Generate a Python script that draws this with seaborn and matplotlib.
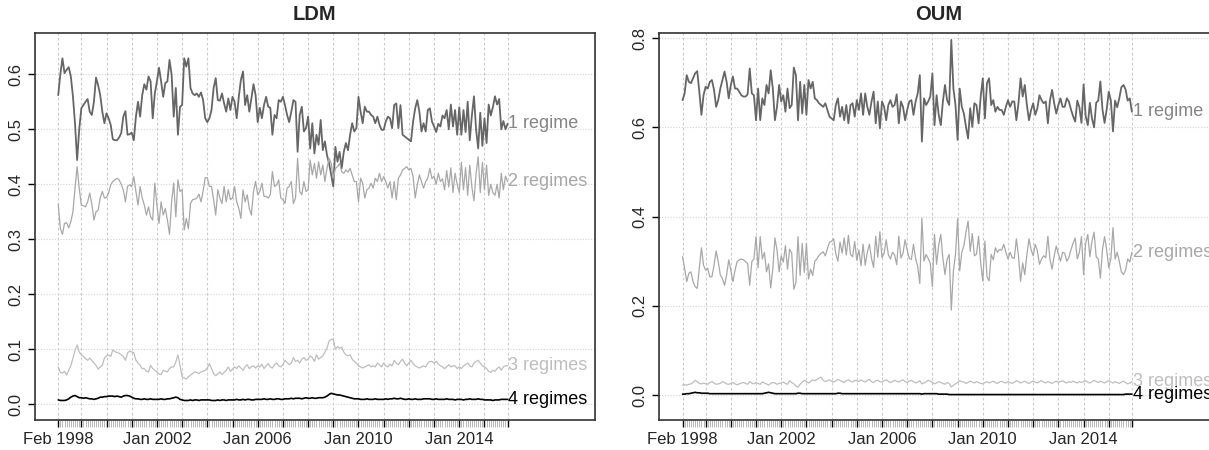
import numpy as np
import pandas as pd
import seaborn as sns
import matplotlib.pyplot as plt

# monthly observations, Feb 1998 .. Dec 2015
months = pd.date_range('1998-02-01', periods=215, freq='MS')

# ---- LDM ----
ldm_1 = [
    0.562, 0.600, 0.629, 0.602, 0.608, 0.613, 0.596, 0.560, 0.510, 0.444, 0.500,
    0.538, 0.544, 0.550, 0.555, 0.532, 0.526, 0.550, 0.594, 0.580, 0.562, 0.532, 0.511,
    0.529, 0.520, 0.508, 0.482, 0.480, 0.480, 0.485, 0.493, 0.523, 0.533, 0.490, 0.491,
    0.494, 0.480, 0.523, 0.550, 0.523, 0.562, 0.582, 0.572, 0.596, 0.587, 0.520, 0.565,
    0.587, 0.612, 0.587, 0.559, 0.584, 0.587, 0.626, 0.599, 0.523, 0.575, 0.490, 0.541,
    0.544, 0.629, 0.614, 0.629, 0.575, 0.565, 0.562, 0.565, 0.559, 0.567, 0.553, 0.520,
    0.513, 0.520, 0.535, 0.575, 0.593, 0.553, 0.552, 0.565, 0.547, 0.532, 0.556, 0.535,
    0.559, 0.550, 0.520, 0.559, 0.590, 0.605, 0.544, 0.562, 0.532, 0.556, 0.582, 0.562,
    0.513, 0.539, 0.520, 0.544, 0.559, 0.541, 0.539, 0.490, 0.526, 0.520, 0.553, 0.550,
    0.559, 0.544, 0.526, 0.513, 0.532, 0.553, 0.550, 0.459, 0.526, 0.541, 0.496, 0.502,
    0.523, 0.465, 0.511, 0.456, 0.490, 0.472, 0.517, 0.462, 0.478, 0.453, 0.438, 0.417,
    0.396, 0.468, 0.441, 0.459, 0.429, 0.459, 0.475, 0.462, 0.490, 0.511, 0.496, 0.502,
    0.559, 0.532, 0.511, 0.541, 0.532, 0.532, 0.526, 0.523, 0.511, 0.523, 0.508, 0.499,
    0.499, 0.514, 0.523, 0.520, 0.502, 0.544, 0.547, 0.502, 0.544, 0.490, 0.487, 0.484,
    0.481, 0.478, 0.514, 0.538, 0.553, 0.532, 0.496, 0.511, 0.496, 0.535, 0.538, 0.514,
    0.505, 0.495, 0.510, 0.505, 0.525, 0.520, 0.535, 0.500, 0.545, 0.505, 0.535, 0.490,
    0.540, 0.490, 0.535, 0.495, 0.550, 0.480, 0.525, 0.560, 0.500, 0.465, 0.530, 0.470,
    0.520, 0.475, 0.545, 0.525, 0.540, 0.560, 0.545, 0.555, 0.500, 0.515, 0.500, 0.510,
]
ldm_2 = [
    0.364, 0.320, 0.309, 0.329, 0.330, 0.321, 0.332, 0.350, 0.393, 0.432, 0.393,
    0.362, 0.361, 0.359, 0.368, 0.384, 0.364, 0.335, 0.350, 0.353, 0.375, 0.387, 0.375,
    0.376, 0.384, 0.399, 0.405, 0.408, 0.411, 0.408, 0.400, 0.390, 0.368, 0.396, 0.399,
    0.396, 0.414, 0.387, 0.362, 0.396, 0.375, 0.362, 0.344, 0.359, 0.341, 0.335, 0.402,
    0.362, 0.329, 0.368, 0.344, 0.356, 0.335, 0.309, 0.368, 0.402, 0.341, 0.408, 0.387,
    0.390, 0.317, 0.338, 0.319, 0.365, 0.372, 0.373, 0.375, 0.382, 0.368, 0.387, 0.412,
    0.412, 0.396, 0.396, 0.372, 0.344, 0.390, 0.375, 0.365, 0.396, 0.368, 0.390, 0.372,
    0.375, 0.396, 0.368, 0.356, 0.338, 0.390, 0.368, 0.381, 0.356, 0.344, 0.387, 0.405,
    0.381, 0.387, 0.402, 0.378, 0.378, 0.375, 0.381, 0.423, 0.396, 0.399, 0.408, 0.375,
    0.372, 0.365, 0.393, 0.396, 0.405, 0.365, 0.375, 0.447, 0.387, 0.381, 0.405, 0.387,
    0.390, 0.444, 0.417, 0.438, 0.411, 0.441, 0.417, 0.435, 0.405, 0.429, 0.447, 0.438,
    0.411, 0.429, 0.432, 0.438, 0.423, 0.420, 0.426, 0.422, 0.429, 0.417, 0.405, 0.405,
    0.368, 0.411, 0.402, 0.375, 0.390, 0.393, 0.402, 0.393, 0.411, 0.405, 0.420, 0.405,
    0.414, 0.405, 0.393, 0.405, 0.375, 0.405, 0.372, 0.411, 0.417, 0.426, 0.429, 0.432,
    0.426, 0.429, 0.414, 0.375, 0.399, 0.417, 0.405, 0.393, 0.405, 0.411, 0.429, 0.410,
    0.415, 0.400, 0.420, 0.405, 0.410, 0.390, 0.425, 0.395, 0.430, 0.385, 0.420, 0.400,
    0.385, 0.440, 0.390, 0.430, 0.380, 0.435, 0.395, 0.370, 0.420, 0.450, 0.385, 0.440,
    0.390, 0.435, 0.380, 0.400, 0.385, 0.380, 0.400, 0.375, 0.420, 0.390, 0.415, 0.405,
]
ldm_3 = [
    0.068, 0.058, 0.057, 0.060, 0.053, 0.062, 0.070, 0.084, 0.098, 0.108, 0.095,
    0.090, 0.087, 0.083, 0.080, 0.084, 0.080, 0.075, 0.071, 0.064, 0.068, 0.071, 0.084,
    0.088, 0.090, 0.087, 0.099, 0.096, 0.094, 0.093, 0.090, 0.087, 0.080, 0.093, 0.097,
    0.095, 0.094, 0.080, 0.075, 0.071, 0.065, 0.065, 0.060, 0.059, 0.071, 0.065, 0.062,
    0.059, 0.055, 0.054, 0.062, 0.060, 0.059, 0.065, 0.068, 0.068, 0.077, 0.090, 0.071,
    0.050, 0.048, 0.046, 0.050, 0.053, 0.056, 0.059, 0.058, 0.056, 0.059, 0.060, 0.062,
    0.066, 0.074, 0.065, 0.056, 0.052, 0.055, 0.059, 0.054, 0.058, 0.062, 0.068, 0.060,
    0.064, 0.068, 0.065, 0.070, 0.066, 0.062, 0.068, 0.072, 0.065, 0.068, 0.070, 0.066,
    0.070, 0.068, 0.073, 0.065, 0.070, 0.074, 0.068, 0.066, 0.072, 0.075, 0.070, 0.068,
    0.072, 0.080, 0.076, 0.072, 0.075, 0.085, 0.078, 0.080, 0.075, 0.082, 0.085, 0.080,
    0.082, 0.088, 0.085, 0.078, 0.090, 0.082, 0.085, 0.088, 0.095, 0.102, 0.115, 0.118,
    0.118, 0.100, 0.105, 0.102, 0.104, 0.095, 0.090, 0.088, 0.090, 0.082, 0.078, 0.075,
    0.070, 0.068, 0.066, 0.068, 0.070, 0.072, 0.068, 0.070, 0.068, 0.075, 0.072, 0.068,
    0.075, 0.070, 0.068, 0.073, 0.070, 0.080, 0.075, 0.072, 0.078, 0.082, 0.075, 0.070,
    0.075, 0.080, 0.074, 0.070, 0.068, 0.066, 0.068, 0.070, 0.068, 0.075, 0.078, 0.078,
    0.075, 0.078, 0.073, 0.070, 0.068, 0.065, 0.068, 0.072, 0.068, 0.070, 0.070, 0.065,
    0.068, 0.065, 0.070, 0.072, 0.075, 0.070, 0.068, 0.075, 0.078, 0.080, 0.075, 0.070,
    0.068, 0.065, 0.060, 0.058, 0.062, 0.060, 0.065, 0.068, 0.062, 0.068, 0.070, 0.070,
]
ldm_4 = [
    0.008, 0.007, 0.007, 0.007, 0.008, 0.010, 0.013, 0.015, 0.016, 0.014, 0.012,
    0.012, 0.011, 0.012, 0.011, 0.010, 0.010, 0.009, 0.010, 0.011, 0.013, 0.013, 0.014,
    0.014, 0.015, 0.015, 0.015, 0.014, 0.015, 0.014, 0.013, 0.015, 0.016, 0.016, 0.015,
    0.013, 0.011, 0.010, 0.010, 0.009, 0.009, 0.010, 0.009, 0.009, 0.010, 0.009, 0.009,
    0.009, 0.009, 0.010, 0.009, 0.009, 0.010, 0.010, 0.011, 0.012, 0.013, 0.012, 0.009,
    0.008, 0.007, 0.007, 0.007, 0.008, 0.007, 0.008, 0.008, 0.007, 0.008, 0.008, 0.008,
    0.008, 0.008, 0.007, 0.007, 0.007, 0.008, 0.007, 0.008, 0.008, 0.007, 0.008, 0.008,
    0.008, 0.008, 0.009, 0.008, 0.008, 0.009, 0.008, 0.009, 0.009, 0.008, 0.008, 0.009,
    0.009, 0.009, 0.009, 0.010, 0.009, 0.009, 0.010, 0.009, 0.009, 0.010, 0.010, 0.009,
    0.009, 0.010, 0.010, 0.010, 0.011, 0.010, 0.011, 0.011, 0.011, 0.010, 0.011, 0.012,
    0.011, 0.011, 0.012, 0.011, 0.011, 0.012, 0.012, 0.012, 0.013, 0.015, 0.018, 0.020,
    0.019, 0.018, 0.017, 0.017, 0.016, 0.015, 0.014, 0.013, 0.012, 0.011, 0.010, 0.010,
    0.010, 0.009, 0.009, 0.009, 0.010, 0.009, 0.009, 0.009, 0.010, 0.009, 0.009, 0.009,
    0.009, 0.010, 0.009, 0.010, 0.010, 0.011, 0.010, 0.010, 0.011, 0.010, 0.009, 0.009,
    0.010, 0.009, 0.009, 0.010, 0.009, 0.009, 0.009, 0.010, 0.010, 0.010, 0.010, 0.009,
    0.009, 0.010, 0.009, 0.009, 0.009, 0.009, 0.010, 0.009, 0.009, 0.009, 0.008, 0.009,
    0.009, 0.009, 0.008, 0.009, 0.009, 0.010, 0.009, 0.009, 0.009, 0.010, 0.009, 0.009,
    0.008, 0.008, 0.008, 0.008, 0.007, 0.008, 0.008, 0.008, 0.009, 0.009, 0.009, 0.009,
]

# ---- OUM ----
oum_1 = [
    0.661, 0.676, 0.717, 0.702, 0.699, 0.710, 0.721, 0.726, 0.680, 0.628, 0.672,
    0.691, 0.687, 0.702, 0.706, 0.684, 0.646, 0.661, 0.687, 0.706, 0.725, 0.702, 0.665,
    0.695, 0.714, 0.687, 0.687, 0.680, 0.672, 0.669, 0.669, 0.674, 0.732, 0.676, 0.672,
    0.616, 0.687, 0.616, 0.665, 0.650, 0.695, 0.676, 0.728, 0.687, 0.616, 0.646, 0.695,
    0.658, 0.672, 0.635, 0.687, 0.643, 0.650, 0.734, 0.717, 0.616, 0.702, 0.631, 0.695,
    0.628, 0.706, 0.687, 0.702, 0.665, 0.661, 0.654, 0.650, 0.646, 0.654, 0.639, 0.624,
    0.620, 0.616, 0.650, 0.665, 0.624, 0.646, 0.616, 0.650, 0.609, 0.650, 0.654, 0.624,
    0.661, 0.639, 0.676, 0.628, 0.676, 0.646, 0.628, 0.658, 0.680, 0.609, 0.658, 0.598,
    0.658, 0.646, 0.616, 0.650, 0.661, 0.646, 0.650, 0.674, 0.609, 0.658, 0.646, 0.616,
    0.639, 0.658, 0.661, 0.628, 0.658, 0.676, 0.717, 0.568, 0.665, 0.650, 0.658, 0.669,
    0.721, 0.605, 0.672, 0.628, 0.605, 0.658, 0.695, 0.661, 0.650, 0.796, 0.687, 0.650,
    0.572, 0.687, 0.646, 0.631, 0.601, 0.575, 0.643, 0.601, 0.654, 0.650, 0.609, 0.669,
    0.710, 0.620, 0.699, 0.710, 0.650, 0.661, 0.635, 0.646, 0.639, 0.639, 0.628, 0.646,
    0.661, 0.646, 0.658, 0.658, 0.616, 0.654, 0.710, 0.669, 0.695, 0.650, 0.616, 0.639,
    0.654, 0.628, 0.643, 0.672, 0.661, 0.654, 0.658, 0.609, 0.661, 0.684, 0.654, 0.631,
    0.650, 0.665, 0.646, 0.646, 0.665, 0.658, 0.640, 0.625, 0.613, 0.660, 0.645, 0.610,
    0.696, 0.625, 0.605, 0.655, 0.620, 0.600, 0.655, 0.660, 0.703, 0.640, 0.610, 0.640,
    0.680, 0.660, 0.591, 0.660, 0.645, 0.665, 0.690, 0.695, 0.685, 0.660, 0.665, 0.635,
]
oum_2 = [
    0.310, 0.284, 0.254, 0.273, 0.276, 0.254, 0.243, 0.239, 0.284, 0.330, 0.291,
    0.280, 0.284, 0.265, 0.265, 0.291, 0.323, 0.299, 0.269, 0.261, 0.246, 0.269, 0.303,
    0.280, 0.254, 0.280, 0.299, 0.303, 0.305, 0.303, 0.299, 0.295, 0.246, 0.299, 0.305,
    0.355, 0.285, 0.355, 0.305, 0.320, 0.276, 0.294, 0.240, 0.283, 0.352, 0.325, 0.276,
    0.312, 0.298, 0.335, 0.282, 0.327, 0.318, 0.237, 0.252, 0.355, 0.268, 0.340, 0.275,
    0.340, 0.260, 0.282, 0.268, 0.300, 0.305, 0.313, 0.318, 0.321, 0.312, 0.328, 0.342,
    0.345, 0.350, 0.316, 0.300, 0.343, 0.318, 0.352, 0.314, 0.358, 0.315, 0.310, 0.344,
    0.302, 0.325, 0.290, 0.338, 0.291, 0.320, 0.338, 0.306, 0.286, 0.356, 0.309, 0.366,
    0.308, 0.318, 0.348, 0.315, 0.305, 0.320, 0.314, 0.292, 0.356, 0.307, 0.318, 0.348,
    0.325, 0.306, 0.304, 0.338, 0.306, 0.288, 0.250, 0.396, 0.300, 0.315, 0.306, 0.295,
    0.243, 0.360, 0.293, 0.336, 0.360, 0.306, 0.270, 0.304, 0.315, 0.190, 0.278, 0.315,
    0.395, 0.278, 0.320, 0.335, 0.365, 0.390, 0.322, 0.362, 0.312, 0.316, 0.356, 0.296,
    0.255, 0.345, 0.265, 0.256, 0.315, 0.303, 0.330, 0.320, 0.326, 0.325, 0.338, 0.320,
    0.305, 0.320, 0.308, 0.306, 0.350, 0.312, 0.255, 0.296, 0.270, 0.315, 0.350, 0.326,
    0.312, 0.338, 0.322, 0.293, 0.305, 0.312, 0.308, 0.356, 0.304, 0.282, 0.312, 0.334,
    0.316, 0.300, 0.320, 0.318, 0.300, 0.308, 0.326, 0.340, 0.352, 0.305, 0.320, 0.355,
    0.270, 0.340, 0.360, 0.310, 0.345, 0.365, 0.310, 0.305, 0.262, 0.326, 0.355, 0.325,
    0.285, 0.305, 0.375, 0.305, 0.320, 0.300, 0.276, 0.270, 0.280, 0.305, 0.298, 0.320,
]
oum_3 = [
    0.022, 0.023, 0.022, 0.024, 0.025, 0.028, 0.033, 0.030, 0.026, 0.025, 0.027,
    0.025, 0.024, 0.028, 0.030, 0.027, 0.024, 0.025, 0.026, 0.030, 0.028, 0.025, 0.024,
    0.026, 0.028, 0.025, 0.023, 0.025, 0.027, 0.028, 0.026, 0.024, 0.030, 0.027, 0.025,
    0.028, 0.026, 0.024, 0.029, 0.027, 0.025, 0.022, 0.026, 0.028, 0.027, 0.024, 0.026,
    0.027, 0.029, 0.026, 0.024, 0.032, 0.028, 0.025, 0.020, 0.018, 0.024, 0.029, 0.033,
    0.030, 0.027, 0.030, 0.034, 0.032, 0.035, 0.038, 0.040, 0.033, 0.030, 0.032, 0.034,
    0.031, 0.029, 0.032, 0.035, 0.033, 0.030, 0.028, 0.032, 0.034, 0.031, 0.029, 0.033,
    0.032, 0.030, 0.034, 0.031, 0.029, 0.033, 0.035, 0.030, 0.028, 0.032, 0.033, 0.030,
    0.029, 0.032, 0.034, 0.031, 0.028, 0.030, 0.033, 0.031, 0.029, 0.032, 0.034, 0.030,
    0.028, 0.031, 0.033, 0.030, 0.027, 0.029, 0.032, 0.025, 0.027, 0.030, 0.033, 0.031,
    0.028, 0.025, 0.027, 0.030, 0.028, 0.026, 0.024, 0.028, 0.026, 0.018, 0.022, 0.025,
    0.028, 0.032, 0.030, 0.029, 0.026, 0.028, 0.031, 0.029, 0.027, 0.030, 0.028, 0.026,
    0.025, 0.028, 0.030, 0.027, 0.029, 0.031, 0.028, 0.026, 0.029, 0.031, 0.028, 0.027,
    0.030, 0.028, 0.026, 0.029, 0.032, 0.030, 0.027, 0.029, 0.031, 0.028, 0.026, 0.029,
    0.031, 0.029, 0.027, 0.030, 0.032, 0.029, 0.027, 0.030, 0.028, 0.026, 0.029, 0.031,
    0.028, 0.030, 0.032, 0.029, 0.027, 0.030, 0.028, 0.031, 0.029, 0.027, 0.030, 0.028,
    0.030, 0.032, 0.029, 0.027, 0.030, 0.033, 0.030, 0.028, 0.031, 0.029, 0.027, 0.030,
    0.032, 0.029, 0.027, 0.030, 0.028, 0.026, 0.029, 0.031, 0.028, 0.025, 0.027, 0.030,
]
oum_4 = [
    0.002, 0.002, 0.003, 0.003, 0.004, 0.005, 0.006, 0.005, 0.005, 0.004, 0.004,
    0.004, 0.004, 0.003, 0.003, 0.003, 0.003, 0.003, 0.003, 0.003, 0.003, 0.003, 0.003,
    0.003, 0.003, 0.003, 0.003, 0.003, 0.003, 0.003, 0.003, 0.003, 0.003, 0.003, 0.003,
    0.003, 0.003, 0.003, 0.003, 0.004, 0.005, 0.006, 0.005, 0.004, 0.003, 0.003, 0.003,
    0.003, 0.003, 0.003, 0.003, 0.003, 0.003, 0.003, 0.003, 0.004, 0.004, 0.003, 0.003,
    0.003, 0.003, 0.003, 0.003, 0.003, 0.003, 0.003, 0.003, 0.003, 0.003, 0.003, 0.003,
    0.003, 0.003, 0.003, 0.004, 0.004, 0.003, 0.003, 0.003, 0.003, 0.003, 0.003, 0.003,
    0.003, 0.003, 0.003, 0.003, 0.003, 0.003, 0.003, 0.003, 0.003, 0.003, 0.003, 0.003,
    0.003, 0.003, 0.003, 0.003, 0.003, 0.003, 0.003, 0.003, 0.003, 0.003, 0.003, 0.003,
    0.003, 0.003, 0.003, 0.003, 0.003, 0.003, 0.003, 0.002, 0.003, 0.003, 0.003, 0.003,
    0.003, 0.003, 0.003, 0.002, 0.002, 0.002, 0.002, 0.002, 0.001, 0.001, 0.001, 0.001,
    0.001, 0.001, 0.001, 0.001, 0.001, 0.001, 0.001, 0.001, 0.001, 0.001, 0.001, 0.001,
    0.001, 0.001, 0.001, 0.001, 0.001, 0.001, 0.001, 0.001, 0.001, 0.001, 0.001, 0.001,
    0.001, 0.001, 0.001, 0.001, 0.001, 0.001, 0.001, 0.001, 0.001, 0.001, 0.001, 0.001,
    0.001, 0.001, 0.001, 0.001, 0.001, 0.001, 0.001, 0.001, 0.001, 0.001, 0.001, 0.001,
    0.001, 0.001, 0.001, 0.001, 0.001, 0.001, 0.001, 0.001, 0.001, 0.001, 0.001, 0.001,
    0.001, 0.001, 0.001, 0.001, 0.001, 0.001, 0.001, 0.001, 0.001, 0.001, 0.001, 0.001,
    0.001, 0.001, 0.001, 0.001, 0.001, 0.001, 0.001, 0.001, 0.002, 0.002, 0.002, 0.002,
]

regime_names = ['1 regime', '2 regimes', '3 regimes', '4 regimes']
line_cols = ['#666666', '#a8a8a8', '#bebebe', '#000000']
text_cols = ['#858585', '#a8a8a8', '#bebebe', '#000000']
line_w = [1.3, 0.9, 0.9, 1.2]

labelled = ['1998-02', '2002-01', '2006-01', '2010-01', '2014-01']

sns.set_style('white')
plt.rcParams['font.family'] = ['Liberation Sans', 'DejaVu Sans']

W, H = 1209, 450
fig = plt.figure(figsize=(W / 100, H / 100), dpi=100)
ax_l = fig.add_axes([34.5 / W, 30 / H, 560 / W, 387 / H])
ax_r = fig.add_axes([658.8 / W, 30 / H, 560 / W, 387 / H])


def draw_panel(ax, series, title, ylim, yticks):
    idx = np.arange(len(months))
    # year grid positions: first obs, every January, last obs
    major = [0] + [i for i, d in enumerate(months) if d.month == 1] + [len(months) - 1]
    for p in major:
        ax.axvline(p, color='#cccccc', lw=0.8, ls=(0, (2.5, 2)), zorder=0)
    for t in yticks:
        ax.axhline(t, color='#d4d4d4', lw=0.8, ls=(0, (1, 1.5)), zorder=0)

    for vals, name, c, tc, lw in zip(series, regime_names, line_cols, text_cols, line_w):
        sns.lineplot(x=idx, y=vals, ax=ax, color=c, linewidth=lw, zorder=3)
        ax.text(idx[-1] + 0.3, vals[-1], name, color=tc, fontsize=13,
                ha='left', va='center', zorder=4)

    ax.set_xlim(-11.3, 255.4)
    ax.set_ylim(*ylim)
    ax.set_xticks(major)
    ax.set_xticklabels([months[p].strftime('%b %Y') if months[p].strftime('%Y-%m') in labelled else ''
                        for p in major])
    ax.set_xticks(idx, minor=True)
    ax.tick_params(axis='x', which='major', length=5, width=1.0, color='black',
                   direction='out', bottom=True, labelsize=12, pad=4)
    ax.tick_params(axis='x', which='minor', length=5, width=0.5, color='#9a9a9a',
                   direction='out', bottom=True)
    ax.set_yticks(yticks)
    ax.set_yticklabels(['%.1f' % t for t in yticks], rotation=90, va='center')
    ax.tick_params(axis='y', length=5, width=1.0, color='black', direction='out',
                   left=True, labelsize=12, pad=3)
    for s in ax.spines.values():
        s.set_visible(True)
        s.set_color('#333333')
        s.set_linewidth(1.2)
    ax.set_xlabel('')
    ax.set_ylabel('')
    ax.set_title(title, fontsize=14.5, fontweight='bold', pad=9)


draw_panel(ax_l, [ldm_1, ldm_2, ldm_3, ldm_4], 'LDM', (-0.0285, 0.675),
           [0.0, 0.1, 0.2, 0.3, 0.4, 0.5, 0.6])
draw_panel(ax_r, [oum_1, oum_2, oum_3, oum_4], 'OUM', (-0.056, 0.8115),
           [0.0, 0.2, 0.4, 0.6, 0.8])

fig.savefig('out.png', dpi=100)
